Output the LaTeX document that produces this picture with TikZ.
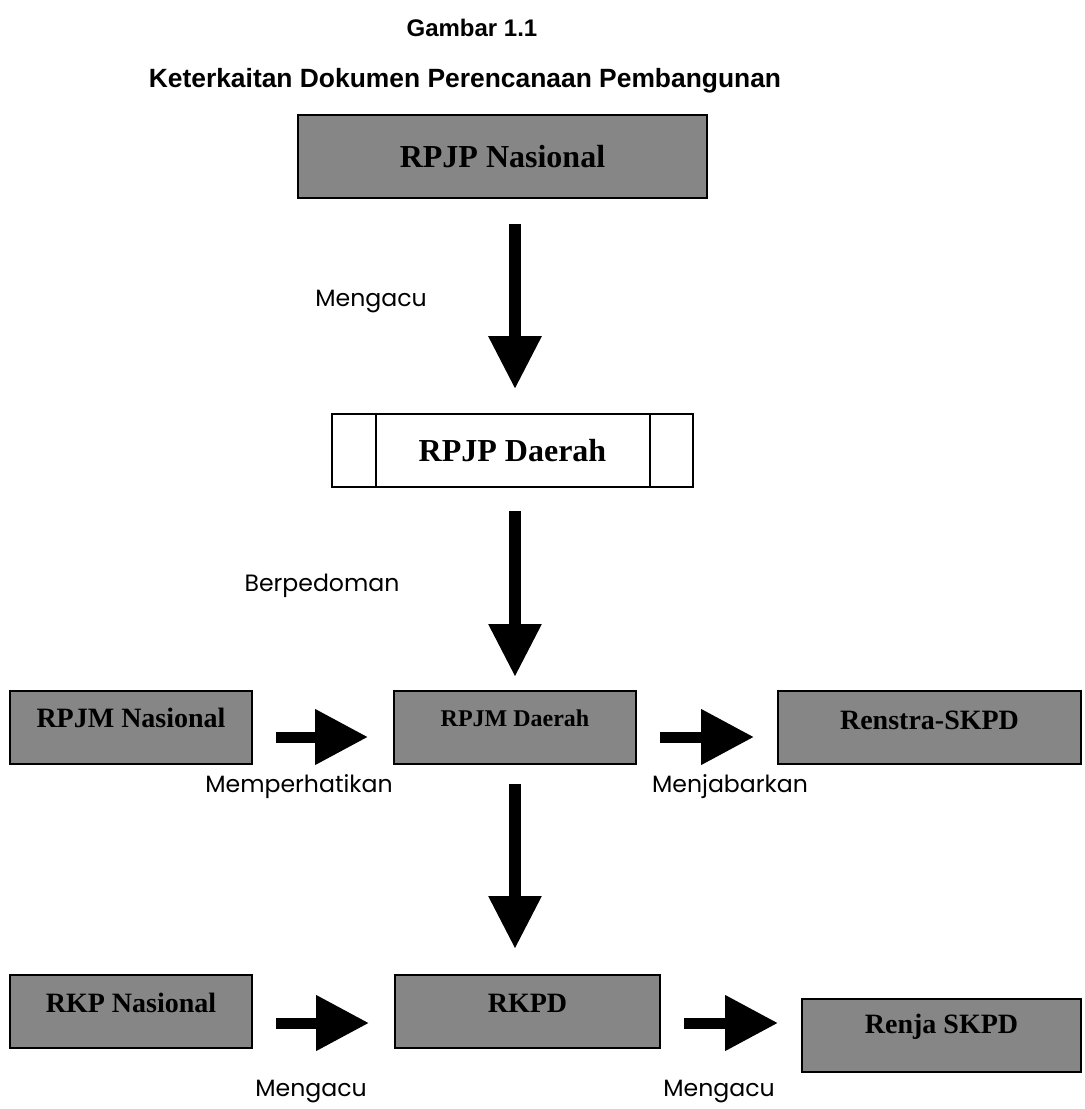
\documentclass[tikz,border=0pt]{standalone}
\usepackage{fontspec}
\setmainfont{Liberation Serif}
\newfontfamily\titlefont{Liberation Sans}
\newfontfamily\notefont{Poppins}
\usetikzlibrary{arrows.meta}
\definecolor{boxgray}{RGB}{134,134,134}
\newcommand{\lift}[2]{\raisebox{#1}[\height][\depth]{#2}}

\begin{document}
\begin{tikzpicture}[
    x=0.5pt, y=-0.5pt,
    docbox/.style={rectangle, draw=black, line width=1pt, fill=boxgray,
        inner sep=0pt, minimum height=36.5pt,
        font=\fontsize{#1pt}{#1pt}\selectfont\bfseries},
    docbox/.default=14,
    plainbox/.style={rectangle, draw=black, line width=0.8pt, fill=white,
        inner sep=0pt, font=\fontsize{16pt}{16pt}\selectfont\bfseries},
    downarrow/.style={-{Triangle[width=25pt,length=26.5pt]}, line width=6pt},
    rightarrow/.style={-{Triangle[width=26.5pt,length=26.5pt]}, line width=5.5pt},
    note/.style={font=\notefont\fontsize{11.8pt}{13pt}\selectfont, anchor=base},
    heading/.style={font=\titlefont\bfseries\fontsize{#1pt}{#1pt}\selectfont, anchor=base}
  ]
  \useasboundingbox (0,0) rectangle (1084,1109);

  % judul
  \node[heading=12] (gambar) at (472,36) {Gambar 1.1};
  \node[heading=13.2] (judul) at (465,87) {Keterkaitan Dokumen Perencanaan Pembangunan};

  % dokumen
  \node[docbox=16, minimum width=204.5pt, minimum height=41.5pt] (rpjpn) at (502.5,156.5) {RPJP Nasional};
  \node[plainbox, minimum width=180.5pt, minimum height=36.5pt] (rpjpd) at (512.5,450.5) {RPJP Daerah};
  \draw[line width=0.8pt] ([xshift=22.5pt]rpjpd.north west) -- ([xshift=22.5pt]rpjpd.south west);
  \draw[line width=0.8pt] ([xshift=-22pt]rpjpd.north east) -- ([xshift=-22pt]rpjpd.south east);
  \node[docbox, minimum width=121pt] (rpjmn) at (131,727.5) {\lift{4.75pt}{RPJM Nasional}};
  \node[docbox=12, minimum width=121pt] (rpjmd) at (515,727.5) {\lift{4.75pt}{RPJM Daerah}};
  \node[docbox, minimum width=151.5pt] (renstra) at (929.5,727.5) {\lift{3.75pt}{Renstra-SKPD}};
  \node[docbox, minimum width=121pt] (rkpn) at (131,1011.5) {\lift{4.25pt}{RKP Nasional}};
  \node[docbox, minimum width=132.5pt] (rkpd) at (527.5,1011.5) {\lift{4.25pt}{RKPD}};
  \node[docbox, minimum width=139.5pt] (renja) at (941.5,1035.5) {\lift{4.25pt}{Renja SKPD}};

  % panah
  \draw[downarrow, shorten <=12.5pt, shorten >=12pt] (rpjpn.south -| rpjmd.center) -- (rpjpd.north -| rpjmd.center);
  \draw[downarrow, shorten <=11.5pt, shorten >=6.5pt] (rpjpd.south -| rpjmd.center) -- (rpjmd.north);
  \draw[downarrow, shorten <=9.5pt, shorten >=12.5pt] (rpjmd.south) -- (rkpd.north -| rpjmd.center);
  \draw[rightarrow, shorten <=11.5pt, shorten >=12.5pt] ([yshift=-4.75pt]rpjmn.east) -- ([yshift=-4.75pt]rpjmd.west);
  \draw[rightarrow, shorten <=11.5pt, shorten >=11.5pt] ([yshift=-4.75pt]rpjmd.east) -- ([yshift=-4.75pt]renstra.west);
  \draw[rightarrow, shorten <=11.5pt, shorten >=12.5pt] ([yshift=-5.75pt]rkpn.east) -- ([yshift=-5.75pt]rkpd.west);
  \draw[rightarrow, shorten <=11.5pt, shorten >=11.5pt] ([yshift=-5.75pt]rkpd.east) -- ([yshift=-5.75pt]rkpd.east -| renja.west);

  % keterangan
  \node[note] (mengacuA) at (371,306) {Mengacu};
  \node[note] (berpedoman) at (322,591) {Berpedoman};
  \node[note] (memperhatikan) at (299,792) {Memperhatikan};
  \node[note] (menjabarkan) at (730,792) {Menjabarkan};
  \node[note] (mengacuB) at (311,1096) {Mengacu};
  \node[note] (mengacuC) at (719,1096) {Mengacu};
\end{tikzpicture}
\end{document}
